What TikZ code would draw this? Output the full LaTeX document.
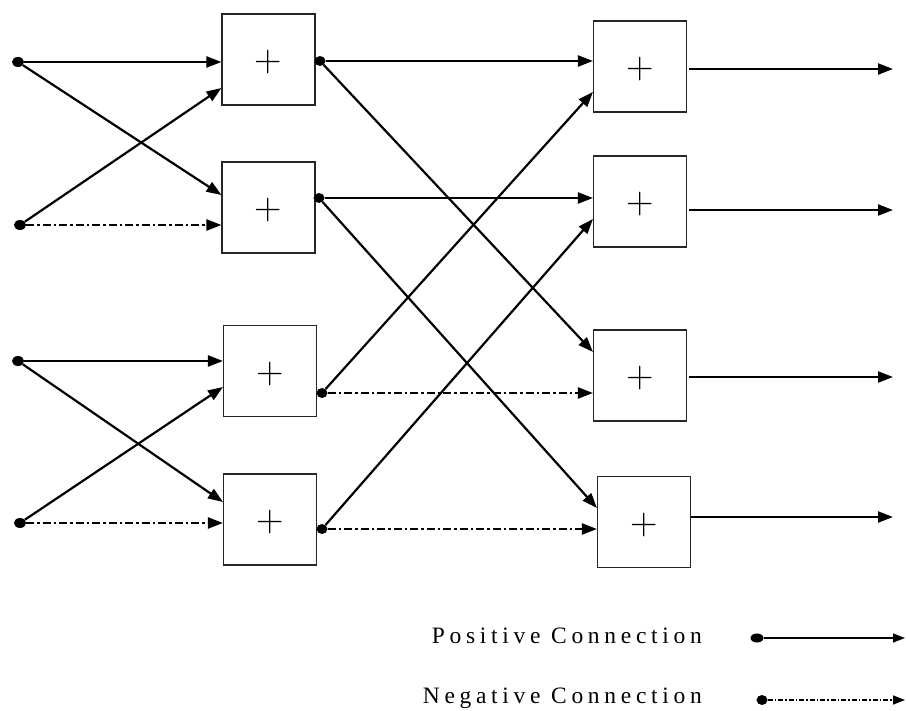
\documentclass[tikz,border=0pt]{standalone}
\usepackage{fontspec}
\usetikzlibrary{arrows.meta,shapes.geometric,calc}
\newfontfamily\legendfont{Liberation Serif}[LetterSpace=20]
\begin{document}
\begin{tikzpicture}[x=1pt,y=-1pt,
  sumbox/.style={draw=black!85,line width=1.1pt,minimum width=93pt,minimum height=91pt,
    inner sep=0pt,text height=25pt,text depth=0.4pt,font=\fontsize{38}{38}\selectfont},
  dot/.style={ellipse,fill=black,inner sep=0pt,minimum width=12pt,minimum height=10pt},
  posline/.style={line width=2.2pt,-{Triangle[length=15pt,width=11pt]}},
  negline/.style={line width=2.2pt,dash pattern=on 8pt off 3pt on 2.5pt off 3pt,
    -{Triangle[length=15pt,width=11pt]}},
  legtext/.style={anchor=base east,inner sep=0pt,font=\legendfont\fontsize{23.5}{28}\selectfont}]
\useasboundingbox (0,0) rectangle (906,711);

% input terminals
\node[dot] (i1) at (18,62) {};
\node[dot] (i2) at (20,225) {};
\node[dot] (i3) at (18,361) {};
\node[dot] (i4) at (20,523) {};

% first stage adders
\node[sumbox] (b1) at (268.5,59.5) {+\hspace{5pt}};
\node[sumbox] (b2) at (268.5,207.5) {+\hspace{5pt}};
\node[sumbox] (b3) at (270,371) {+\hspace{5pt}};
\node[sumbox] (b4) at (270,519.5) {+\hspace{5pt}};

% second stage adders
\node[sumbox] (b5) at (640,66.5) {+\hspace{5pt}};
\node[sumbox] (b6) at (640,201.5) {+\hspace{5pt}};
\node[sumbox] (b7) at (640,375.5) {+\hspace{5pt}};
\node[sumbox] (b8) at (644,522) {+\hspace{5pt}};

% first stage output terminals
\node[dot,minimum width=11pt] (o1) at (320,61) {};
\node[dot,minimum width=11pt] (o2) at (319,198) {};
\node[dot,minimum width=11pt] (o3) at (322,393) {};
\node[dot,minimum width=11pt] (o4) at (322,529) {};

% output ends
\coordinate (out5) at (893,69);
\coordinate (out6) at (893,210);
\coordinate (out7) at (893,377);
\coordinate (out8) at (893,517);

% first butterfly stage
\draw[posline] (i1) -- (i1 -| b1.west);
\draw[posline] (i1) -- ($(b2.west)+(0,-12.5)$);
\draw[posline] (i2) -- ($(b1.west)+(0,28.5)$);
\draw[negline] (i2) -- (i2 -| b2.west);

\draw[posline] (i3) -- (i3 -| b3.west);
\draw[posline] (i3) -- ($(b4.west)+(0,-17.5)$);
\draw[posline] (i4) -- ($(b3.west)+(0,16)$);
\draw[negline] (i4) -- (i4 -| b4.west);

% second butterfly stage
\draw[posline] (o1) -- (o1 -| b5.west);
\draw[posline] (o1) -- ($(b7.west)+(0,-23.5)$);
\draw[posline] (o2) -- (o2 -| b6.west);
\draw[posline] (o2) -- ($(b8.west)+(0,-14)$);
\draw[posline] (o3) -- ($(b5.west)+(0,25.5)$);
\draw[negline] (o3) -- (o3 -| b7.west);
\draw[posline] (o4) -- ($(b6.west)+(0,17.5)$);
\draw[negline] (o4) -- (o4 -| b8.west);

% outputs
\draw[posline] ($(b5.east |- out5)+(2,0)$) -- (out5);
\draw[posline] ($(b6.east |- out6)+(2,0)$) -- (out6);
\draw[posline] ($(b7.east |- out7)+(2,0)$) -- (out7);
\draw[posline] ($(b8.east |- out8)+(0,0)$) -- (out8);

% legend
\node[legtext] (lpt) at (702,643) {Positive Connection};
\node[legtext] (lnt) at (702,703) {Negative Connection};
\node[dot,minimum width=13pt,minimum height=9pt] (lp) at (757,638) {};
\node[dot,minimum width=11pt,minimum height=10pt] (ln) at (762,700) {};
\coordinate (lpe) at (905,638);
\coordinate (lne) at (905,700);
\draw[line width=1.6pt,-{Triangle[length=12pt,width=9pt]}] (lp) -- (lpe);
\draw[line width=1.6pt,dash pattern=on 5pt off 2pt on 1.5pt off 2pt,
  -{Triangle[length=12pt,width=9pt]}] (ln) -- (lne);
\end{tikzpicture}
\end{document}
